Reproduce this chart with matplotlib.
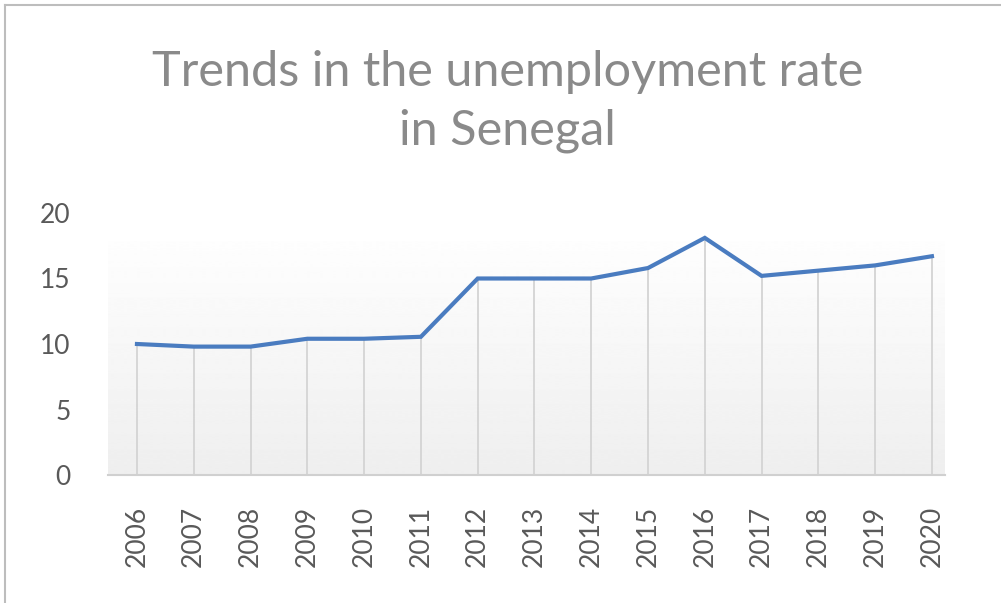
import numpy as np
import matplotlib
matplotlib.use("Agg")
import matplotlib.pyplot as plt
from matplotlib.lines import Line2D

years = ['2006', '2007', '2008', '2009', '2010', '2011', '2012', '2013',
         '2014', '2015', '2016', '2017', '2018', '2019', '2020']
rate = [10.0, 9.8, 9.8, 10.4, 10.4, 10.55, 15.0, 15.0,
        15.0, 15.8, 18.1, 15.2, 15.6, 16.0, 16.7]
yticks = [0, 5, 10, 15, 20]

plt.rcParams['font.family'] = ['Lato', 'DejaVu Sans']

fig = plt.figure(figsize=(10.01, 6.03), dpi=100)
ax = fig.add_axes([108 / 1001, 1 - 475 / 603, (945 - 108) / 1001, (475 - 213) / 603])

x = np.arange(len(years))
xlim = (-0.51, len(years) - 1 + 0.23)

# plot area gradient (white at top -> light grey at bottom)
grad = np.linspace(0.935, 0.995, 256).reshape(-1, 1)
ax.imshow(grad, cmap='gray', vmin=0, vmax=1, origin='lower', aspect='auto',
          extent=[xlim[0], xlim[1], 0, 17.8], zorder=0, interpolation='bilinear')

# drop lines
ax.vlines(x, 0, rate, colors='#d4d4d4', linewidth=1.3, zorder=1)
ax.plot(x, rate, color='#4a7cc0', linewidth=3.0, solid_joinstyle='miter', zorder=3)

ax.set_xlim(*xlim)
ax.set_ylim(0, 20)
ax.set_xticks(x)
ax.set_xticklabels(years, rotation=90, fontsize=19, color='#595959')
ax.set_yticks(yticks)
ax.set_yticklabels([str(t) for t in yticks], fontsize=19, color='#595959')
ax.tick_params(axis='x', length=0, pad=22)
ax.tick_params(axis='y', length=0, pad=27)
for side in ['top', 'right', 'left']:
    ax.spines[side].set_visible(False)
ax.spines['bottom'].set_color('#d0d0d0')
ax.spines['bottom'].set_linewidth(1.5)
ax.set_facecolor('none')

fig.text(0.507, 1 - 72 / 603, 'Trends in the unemployment rate',
         ha='center', va='center', fontsize=35, color='#8a8a8a')
fig.text(0.507, 1 - 131 / 603, 'in Senegal',
         ha='center', va='center', fontsize=35, color='#8a8a8a')

# chart frame (top and left edges)
fig.add_artist(Line2D([5 / 1001, 1], [1 - 5 / 603, 1 - 5 / 603],
                      transform=fig.transFigure, color='#bdbdbd', linewidth=1.5))
fig.add_artist(Line2D([5 / 1001, 5 / 1001], [0, 1 - 5 / 603],
                      transform=fig.transFigure, color='#bdbdbd', linewidth=1.5))

fig.savefig('out.png', dpi=100)
